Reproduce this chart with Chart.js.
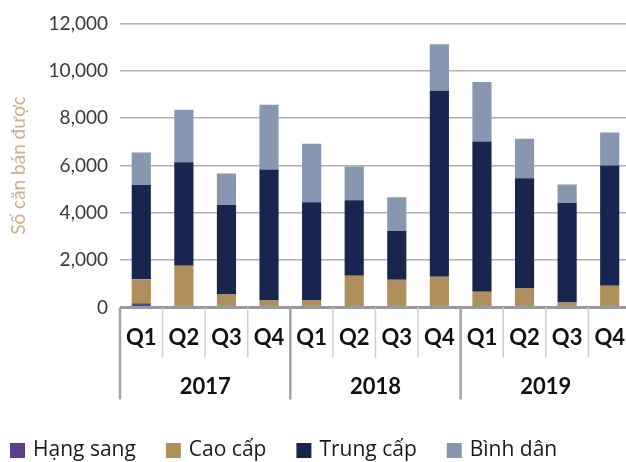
<!DOCTYPE html>
<html lang="vi">

<head>
    <meta charset="UTF-8">
    <title>So can ban duoc</title>
    <style>
        html,
        body {
            margin: 0;
            padding: 0;
            background: #fff;
            overflow: hidden;
        }

        .chartBox {
            width: 640px;
            height: 462px;
        }
    </style>
</head>

<body>

    <div class="chartBox">
        <canvas id="salesChart" width="640" height="462"></canvas>
    </div>

    <script src="https://cdn.jsdelivr.net/npm/chart.js"></script>
    <script>
        // dữ liệu
        const quarters = ['Q1', 'Q2', 'Q3', 'Q4', 'Q1', 'Q2', 'Q3', 'Q4', 'Q1', 'Q2', 'Q3', 'Q4'];
        const years = ['2017', '2018', '2019'];
        const hangSang = [180, 0, 0, 0, 0, 0, 0, 0, 0, 0, 0, 0];
        const caoCap = [1010, 1760, 550, 300, 300, 1340, 1170, 1300, 670, 800, 210, 920];
        const trungCap = [3980, 4370, 3780, 5530, 4150, 3190, 2060, 7850, 6340, 4660, 4200, 5080];
        const binhDan = [1380, 2220, 1330, 2730, 2470, 1430, 1430, 1970, 2520, 1670, 790, 1390];
        const yTicks = [0, 2000, 4000, 6000, 8000, 10000, 12000];

        const data = {
            labels: quarters,
            datasets: [
                { label: 'Hạng sang', data: hangSang, backgroundColor: '#5c3d8f' },
                { label: 'Cao cấp', data: caoCap, backgroundColor: '#b08f5a' },
                { label: 'Trung cấp', data: trungCap, backgroundColor: '#18264f' },
                { label: 'Bình dân', data: binhDan, backgroundColor: '#8797b0' }
            ]
        };

        // vạch chia quý / năm dưới trục x và chú thích
        const groupAxis = {
            id: 'groupAxis',
            afterDraw(chart) {
                const ctx = chart.ctx;
                const x = chart.scales.x;
                const bottom = chart.chartArea.bottom;
                const n = quarters.length;
                const step = x.getPixelForValue(1) - x.getPixelForValue(0);
                const edge = i => x.getPixelForValue(0) - step / 2 + i * step;

                ctx.save();
                for (let i = 0; i <= n; i++) {
                    const isYear = i % 4 === 0;
                    ctx.beginPath();
                    ctx.strokeStyle = isYear ? '#a3a3a6' : '#cfcfd2';
                    ctx.lineWidth = isYear ? 2.5 : 1.5;
                    ctx.moveTo(edge(i), bottom);
                    ctx.lineTo(edge(i), bottom + (isYear ? 92 : 50));
                    ctx.stroke();
                }

                ctx.fillStyle = '#111';
                ctx.font = 'bold 22px Lato';
                ctx.textAlign = 'center';
                ctx.textBaseline = 'middle';
                years.forEach((y, k) => {
                    ctx.fillText(y, (edge(k * 4) + edge(k * 4 + 4)) / 2, bottom + 79);
                });

                // chú thích
                ctx.font = '21px "Open Sans"';
                ctx.textAlign = 'left';
                let lx = 10;
                chart.data.datasets.forEach(ds => {
                    ctx.fillStyle = ds.backgroundColor;
                    ctx.fillRect(lx, 443, 15, 15);
                    ctx.fillStyle = '#1a1a1a';
                    ctx.fillText(ds.label, lx + 23, 450);
                    lx += 23 + ctx.measureText(ds.label).width + 30;
                });
                ctx.restore();
            }
        };

        const config = {
            type: 'bar',
            data,
            options: {
                responsive: false,
                animation: false,
                layout: {
                    padding: { top: 21, right: 9, bottom: 0, left: 0 }
                },
                datasets: {
                    bar: {
                        categoryPercentage: 1,
                        barPercentage: 0.45
                    }
                },
                plugins: {
                    legend: { display: false },
                    tooltip: { enabled: false }
                },
                scales: {
                    x: {
                        stacked: true,
                        grid: { display: false },
                        border: { display: false },
                        ticks: {
                            color: '#111',
                            padding: 9,
                            maxRotation: 0,
                            autoSkip: false,
                            font: { family: 'Lato', size: 22, weight: 'bold' }
                        },
                        afterFit(scale) {
                            scale.height = 154.5;
                        }
                    },
                    y: {
                        stacked: true,
                        min: 0,
                        max: 12000,
                        afterBuildTicks(scale) {
                            scale.ticks = yTicks.map(v => ({ value: v }));
                        },
                        afterFit(scale) {
                            scale.width = 120;
                        },
                        border: { display: false },
                        grid: {
                            drawTicks: false,
                            color: ctx => ctx.tick.value === 0 ? '#9a9a9d' : '#b0b0b3',
                            lineWidth: ctx => ctx.tick.value === 0 ? 3 : 1.5
                        },
                        ticks: {
                            color: '#3a3a3a',
                            padding: 12,
                            font: { family: 'Lato', size: 19 },
                            callback: v => v.toLocaleString('en-US')
                        },
                        title: {
                            display: true,
                            text: 'Số căn bán được',
                            color: '#c9b18c',
                            padding: { top: 7, bottom: 0 },
                            font: { family: 'Lato', size: 19 }
                        }
                    }
                }
            },
            plugins: [groupAxis]
        };

        const ctx = document.getElementById('salesChart');
        const salesChart = new Chart(ctx, config);
    </script>

</body>

</html>
